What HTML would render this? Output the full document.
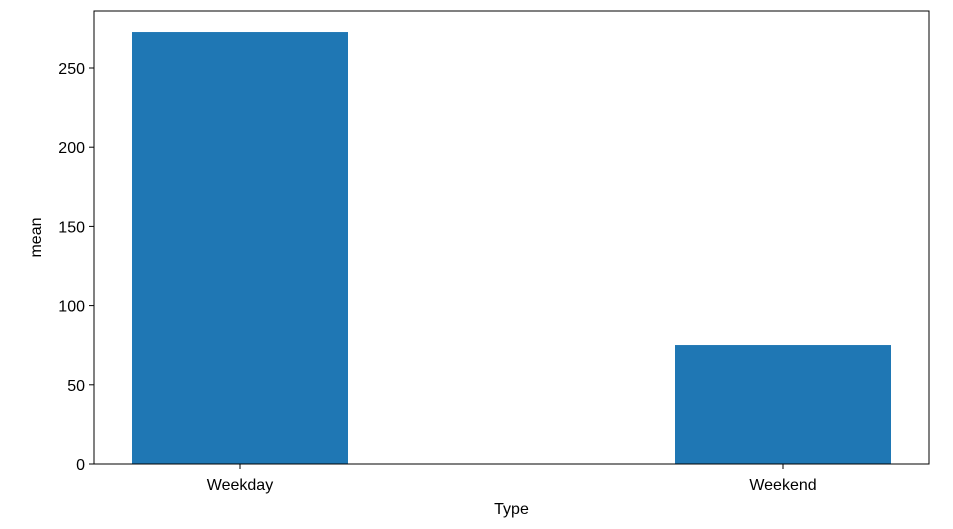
<!DOCTYPE html>
<html><head><meta charset="utf-8"><style>
html,body{margin:0;padding:0;background:#fff;}
svg text{font-family:"Liberation Sans","DejaVu Sans",sans-serif;font-size:16px;fill:#000;}
</style></head><body>
<svg id="chart" width="953" height="524"></svg>
<script>
const categories = ["Weekday", "Weekend"];
const meanValues = [272.7, 75.1];
const yTicks = [0, 50, 100, 150, 200, 250];

const svg = document.getElementById('chart');
const NS = 'http://www.w3.org/2000/svg';
const L = 94, R = 929, T = 11, B = 464;
const yScale = v => B - v * (396 / 250);
const centers = [240, 783];
const xScale = i => centers[0] + i * (centers[1] - centers[0]);
const barW = 216;

function mk(tag, attrs) {
  const e = document.createElementNS(NS, tag);
  for (const k in attrs) e.setAttribute(k, attrs[k]);
  svg.appendChild(e);
  return e;
}

categories.forEach((c, i) => {
  const r = mk('rect', {x: xScale(i) - barW / 2, y: yScale(meanValues[i]), width: barW, height: B - yScale(meanValues[i]), fill: '#1f77b4'});
  
  
  const tk = mk('line', {x1: xScale(i), x2: xScale(i), y1: B, y2: B + 5, stroke: '#000'});
  
  
  const t = mk('text', {x: xScale(i), y: B + 26, 'text-anchor': 'middle'});
  t.textContent = c;
  
  
});

yTicks.forEach(v => {
  const tk = mk('line', {x1: L - 5, x2: L, y1: yScale(v), y2: yScale(v), stroke: '#000'});
  
  
  const t = mk('text', {x: L - 9, y: yScale(v) + 6, 'text-anchor': 'end'});
  t.textContent = v;
  
  
});

const frame = mk('rect', {x: L, y: T, width: R - L, height: B - T, fill: 'none', stroke: '#000', 'stroke-width': 1});



const xt = mk('text', {x: (L + R) / 2, y: 514, 'text-anchor': 'middle'});
xt.textContent = 'Type';



const yt = mk('text', {x: 0, y: 0, 'text-anchor': 'middle', transform: 'translate(41,' + ((T + B) / 2) + ') rotate(-90)'});
yt.textContent = 'mean';


</script>
</body></html>
